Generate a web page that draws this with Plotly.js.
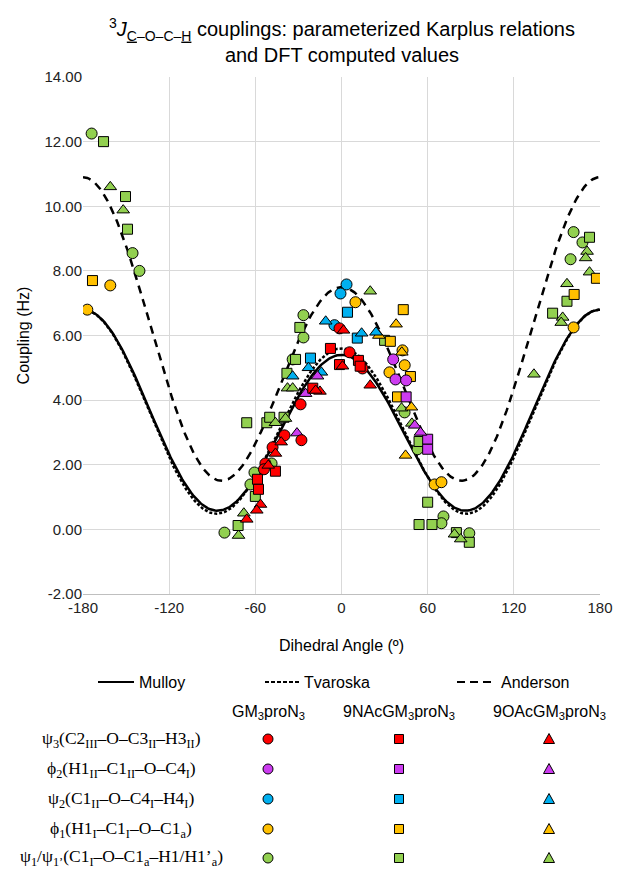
<!DOCTYPE html>
<html>
<head>
<meta charset="utf-8">
<script src="https://cdn.plot.ly/plotly-3.0.1.min.js"></script>
<style>
  html, body { margin: 0; padding: 0; background: #ffffff; }
  #chart { width: 618px; height: 870px; }
</style>
</head>
<body>
<div id="chart"></div>
<script>
// ---------------- DATA ----------------
// Karplus coefficients [A, B, C] for J = A cos^2(t) + B cos(t) + C
const karplusMulloy = [5.5, -0.7, 0.6];
const karplusTvaroska = [5.7, -0.6, 0.5];
const karplusAnderson = [7.6, -1.7, 1.6];
const curveNames = ["Mulloy", "Tvaroska", "Anderson"];

const xTicks = [-180, -120, -60, 0, 60, 120, 180];
const yTicks = [-2, 0, 2, 4, 6, 8, 10, 12, 14];

const compounds = ["GM<sub>3</sub>proN<sub>3</sub>", "9NAcGM<sub>3</sub>proN<sub>3</sub>", "9OAcGM<sub>3</sub>proN<sub>3</sub>"];
const dihedrals = [
  "ψ<sub>3</sub>(C2<sub>III</sub>–O–C3<sub>II</sub>–H3<sub>II</sub>)",
  "ϕ<sub>2</sub>(H1<sub>II</sub>–C1<sub>II</sub>–O–C4<sub>I</sub>)",
  "ψ<sub>2</sub>(C1<sub>II</sub>–O–C4<sub>I</sub>–H4<sub>I</sub>)",
  "ϕ<sub>1</sub>(H1<sub>I</sub>–C1<sub>I</sub>–O–C1<sub>a</sub>)",
  "ψ<sub>1</sub>/ψ<sub>1’</sub>(C1<sub>I</sub>–O–C1<sub>a</sub>–H1/H1’<sub>a</sub>)"
];

// GM3proN3 (circles)
const gm3_psi3_x = [-28.5, -27.9, 5.6, -1.4, 14.6, -39.7, -48, -53, -54];
const gm3_psi3_y = [3.87, 2.76, 5.48, 6.22, 4.98, 2.91, 2.54, 2.04, 1.86];
const gm3_phi2_x = [36, 37.6, 45];
const gm3_phi2_y = [5.26, 4.64, 4.61];
const gm3_psi2_x = [3.5, -0.7, -4.9];
const gm3_psi2_y = [7.58, 7.3, 6.32];
const gm3_phi1_x = [-177, -161, 9.7, 42.5, 44, 33.4, 64.8, 69.6, 161.6];
const gm3_phi1_y = [6.8, 7.55, 7.03, 5.54, 5.08, 4.86, 1.39, 1.46, 6.25];
const gm3_psi1_x = [-174, -145.5, -140.7, -81.5, -60.6, -63.4, -48.7, -26.5, -26.5, -34, 43.9, 53, 71, 69.6, 89, 161.6, 167.8, 159.5];
const gm3_psi1_y = [12.25, 8.55, 8.0, -0.1, 1.76, 1.39, 2.04, 6.63, 5.94, 5.26, 3.62, 2.48, 0.4, 0.19, -0.12, 9.2, 8.88, 8.36];

// 9NAcGM3proN3 (squares)
const nac_psi3_x = [-7.7, 11.8, 13, -1.4, -20, -46, -58.5, -57.8];
const nac_psi3_y = [5.6, 5.23, 5.05, 5.1, 4.37, 1.8, 1.55, 1.24];
const nac_phi2_x = [45, 60, 60];
const nac_phi2_y = [4.1, 2.79, 2.48];
const nac_psi2_x = [4.2, 11, -21.6];
const nac_psi2_y = [6.72, 5.92, 5.3];
const nac_phi1_x = [-173.4, 43, 34, 48, 39, 162, 177.5];
const nac_phi1_y = [7.7, 6.8, 5.82, 4.73, 4.1, 7.27, 7.77];
const nac_psi1_x = [-165.7, -150.4, -149, -66, -52, -50, -40, -38, -32, -29, -72, -60, 30, 54, 60, 54, 63, 80, 89, 147, 157, 172.7];
const nac_psi1_y = [12.0, 10.3, 9.29, 3.3, 3.3, 3.47, 3.47, 4.83, 5.26, 6.25, 0.12, 1.02, 5.85, 2.72, 0.84, 0.15, 0.15, -0.1, -0.4, 6.69, 7.06, 9.04];

// 9OAcGM3proN3 (triangles)
const oac_psi3_x = [0.7, -15, -18, 20, 1.4, -42, -46, -51, -56.4, -59, -66];
const oac_psi3_y = [5.05, 4.27, 4.3, 4.46, 6.16, 2.7, 2.35, 1.98, 0.77, 0.59, 0.31];
const oac_phi2_x = [-16.7, -25, -31, 51, 55];
const oac_phi2_y = [4.74, 4.2, 2.98, 3.22, 3.0];
const oac_psi2_x = [-11, -23, -34, -14, 14, 24];
const oac_psi2_y = [6.44, 5.0, 4.74, 4.86, 6.07, 6.1];
const oac_phi1_x = [38, 26, 44.6, 42, 48.7];
const oac_phi1_y = [6.35, 6.0, 2.29, 5.48, 3.78];
const oac_psi1_x = [-161, -152, -46, -39, -37.6, -34, 20, -68, -71.7, 78.7, 83, 49, 41.8, 134, 154, 153, 157, 171, 170, 172.7];
const oac_psi1_y = [10.6, 9.88, 3.3, 3.43, 4.37, 4.37, 7.37, 0.5, -0.19, -0.15, -0.3, 3.28, 3.75, 4.8, 6.56, 6.4, 7.6, 8.6, 8.4, 7.96];

// ---------------- STYLE ----------------
const rowColors = ["#ff0000", "#cc3cf0", "#00b0f0", "#ffc000", "#92d050"];
const colSymbols = ["circle", "square", "triangle-up"];
const colSizes = [11, 10, 11];

const seriesX = [
  [gm3_psi3_x, gm3_phi2_x, gm3_psi2_x, gm3_phi1_x, gm3_psi1_x],
  [nac_psi3_x, nac_phi2_x, nac_psi2_x, nac_phi1_x, nac_psi1_x],
  [oac_psi3_x, oac_phi2_x, oac_psi2_x, oac_phi1_x, oac_psi1_x]
];
const seriesY = [
  [gm3_psi3_y, gm3_phi2_y, gm3_psi2_y, gm3_phi1_y, gm3_psi1_y],
  [nac_psi3_y, nac_phi2_y, nac_psi2_y, nac_phi1_y, nac_psi1_y],
  [oac_psi3_y, oac_phi2_y, oac_psi2_y, oac_phi1_y, oac_psi1_y]
];

// pixel geometry of the plot area
const W = 618, H = 870;
const L = 83, R = 600, T = 77, B = 594;
const PW = R - L, PH = B - T;
const fx = px => (px - L) / PW;
const fy = py => (B - py) / PH;

// ---------------- TRACES ----------------
const angles = [];
for (let a = -180; a <= 180; a += 1) angles.push(a);
function karplus(c) {
  return angles.map(a => {
    const t = a * Math.PI / 180, k = Math.cos(t);
    return c[0] * k * k + c[1] * k + c[2];
  });
}
const traces = [
  {x: angles, y: karplus(karplusMulloy), mode: "lines", line: {color: "#000", width: 2.5, dash: "solid"}, name: curveNames[0], hoverinfo: "skip"},
  {x: angles, y: karplus(karplusTvaroska), mode: "lines", line: {color: "#000", width: 2.5, dash: "3px,2px"}, name: curveNames[1], hoverinfo: "skip"},
  {x: angles, y: karplus(karplusAnderson), mode: "lines", line: {color: "#000", width: 2.5, dash: "8px,6px"}, name: curveNames[2], hoverinfo: "skip"}
];
for (let r = 4; r >= 0; r--) {
  for (let c = 0; c < 3; c++) {
    traces.push({
      x: seriesX[c][r], y: seriesY[c][r], mode: "markers", type: "scatter",
      marker: {symbol: colSymbols[c], size: colSizes[c], color: rowColors[r], line: {color: "#000", width: 1}},
      name: compounds[c] + " " + dihedrals[r]
    });
  }
}

// ---------------- LEGEND (custom) ----------------
const annotations = [];
const shapes = [];
const sansFont = {family: "Liberation Sans, Arial, sans-serif", size: 16, color: "#000"};
const serifFont = {family: "Liberation Serif, Times New Roman, serif", size: 17.5, color: "#000"};

// title as annotation (two lines)
annotations.push({xref: "paper", yref: "paper", x: 0.5, y: fy(40), xanchor: "center", yanchor: "middle",
  text: "<sup>3</sup><i>J</i><sub><u>C</u>–O–C–<u>H</u></sub> couplings: parameterized Karplus relations<br>and DFT computed values",
  showarrow: false, font: {family: "Liberation Sans, Arial, sans-serif", size: 20, color: "#000"}});

const lineRowY = 682;
const lineLegend = [
  {x0: 98, x1: 134, dash: "solid", tx: 137},
  {x0: 265, x1: 300, dash: "4px,2px", tx: 302},
  {x0: 457, x1: 495, dash: "8px,5px", tx: 499}
];
lineLegend.forEach((d, i) => {
  shapes.push({type: "line", xref: "paper", yref: "paper", x0: fx(d.x0), x1: fx(d.x1), y0: fy(lineRowY), y1: fy(lineRowY),
    line: {color: "#000", width: 2, dash: d.dash}});
  annotations.push({xref: "paper", yref: "paper", x: fx(d.tx), y: fy(lineRowY), xanchor: "left", yanchor: "middle",
    text: curveNames[i], showarrow: false, font: sansFont});
});

const colX = [268, 399, 549];
const headerY = 712;
const rowY = [739, 769, 799, 829, 858];
compounds.forEach((t, c) => {
  annotations.push({xref: "paper", yref: "paper", x: fx(colX[c]), y: fy(headerY), xanchor: "center", yanchor: "middle",
    text: t, showarrow: false, font: sansFont});
});
dihedrals.forEach((t, r) => {
  annotations.push({xref: "paper", yref: "paper", x: fx(121), y: fy(rowY[r]), xanchor: "center", yanchor: "middle",
    text: t, showarrow: false, font: serifFont});
  for (let c = 0; c < 3; c++) {
    const base = {xref: "paper", yref: "paper", xsizemode: "pixel", ysizemode: "pixel",
      xanchor: fx(colX[c]), yanchor: fy(rowY[r]), fillcolor: rowColors[r], line: {color: "#000", width: 1}};
    if (c === 0) shapes.push(Object.assign({type: "circle", x0: -5, x1: 5, y0: -5, y1: 5}, base));
    else if (c === 1) shapes.push(Object.assign({type: "rect", x0: -4.5, x1: 4.5, y0: -4.5, y1: 4.5}, base));
    else shapes.push(Object.assign({type: "path", path: "M -5.5,-4.5 L 5.5,-4.5 L 0,5.5 Z"}, base));
  }
});

const layout = {
  width: W, height: H,
  margin: {l: L, r: W - R, t: T, b: H - B, pad: 0},
  paper_bgcolor: "#fff", plot_bgcolor: "#fff",
  showlegend: false,
  xaxis: {
    range: [-180, 180], tickmode: "array", tickvals: xTicks, ticktext: xTicks.map(String),
    showgrid: true, gridcolor: "#d9d9d9", gridwidth: 1, zeroline: false,
    showline: true, linecolor: "#bfbfbf", linewidth: 1, ticks: "",
    tickfont: {family: "Liberation Sans, Arial, sans-serif", size: 15, color: "#222"},
    title: {text: "Dihedral Angle (º)", standoff: 24, font: {family: "Liberation Sans, Arial, sans-serif", size: 16, color: "#000"}},
    automargin: false, fixedrange: true
  },
  yaxis: {
    range: [-2, 14], tickmode: "array", tickvals: yTicks, ticktext: yTicks.map(v => v.toFixed(2)),
    showgrid: true, gridcolor: "#d9d9d9", gridwidth: 1, zeroline: false,
    showline: false, ticks: "",
    tickfont: {family: "Liberation Sans, Arial, sans-serif", size: 15, color: "#222"},
    title: {text: "Coupling (Hz)", standoff: 10, font: {family: "Liberation Sans, Arial, sans-serif", size: 16, color: "#000"}},
    automargin: false, fixedrange: true
  },
  annotations: annotations,
  shapes: shapes
};

Plotly.newPlot("chart", traces, layout, {displayModeBar: false, staticPlot: true});
</script>
</body>
</html>
